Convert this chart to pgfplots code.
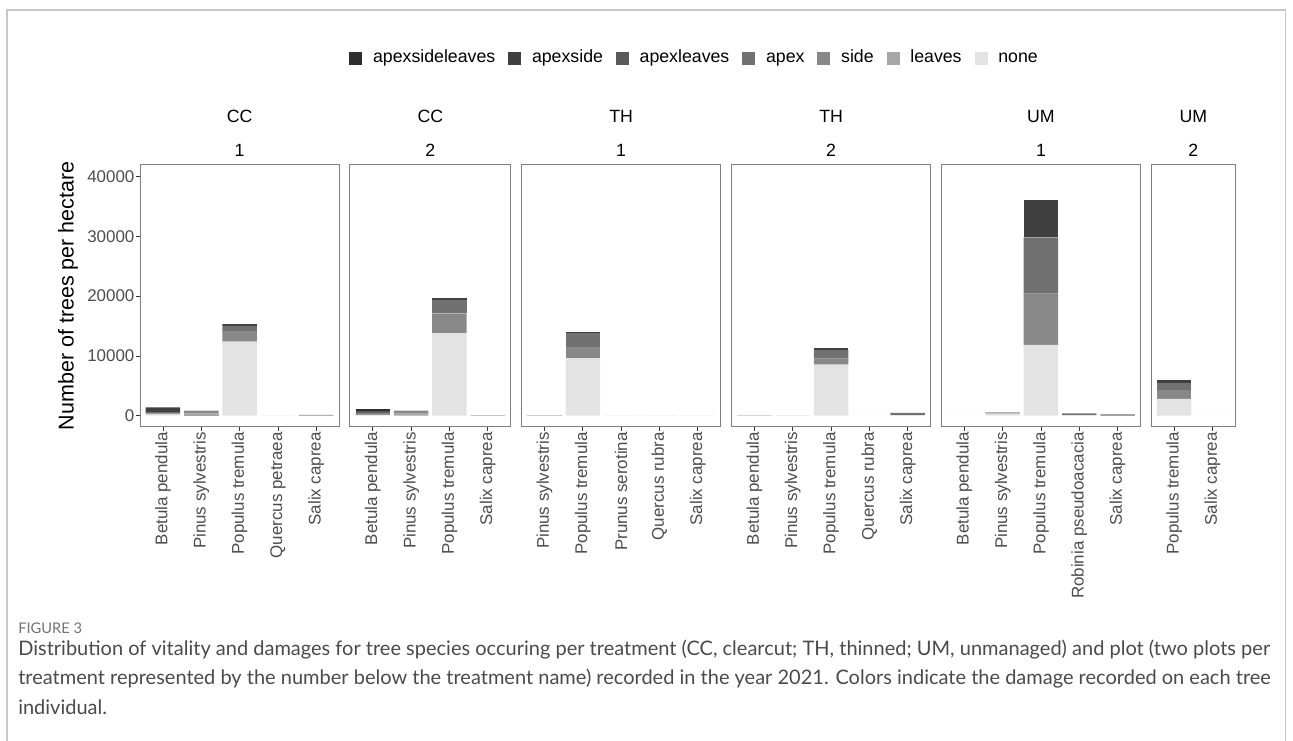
\documentclass[border=0pt]{standalone}
\usepackage{fontspec}
\setmainfont{Liberation Sans}
\newfontfamily\capfont{Lato}
\usepackage{pgfplots}
\pgfplotsset{compat=1.18}
\usepackage{pgfplotstable}

\definecolor{cASL}{HTML}{2E2E2E}
\definecolor{cAS}{HTML}{404040}
\definecolor{cAL}{HTML}{5A5A5A}
\definecolor{cA}{HTML}{717171}
\definecolor{cS}{HTML}{888888}
\definecolor{cL}{HTML}{A6A6A6}
\definecolor{cN}{HTML}{E3E3E3}
\definecolor{panelframe}{HTML}{7F7F7F}
\definecolor{ticktext}{HTML}{4D4D4D}
\definecolor{outerframe}{HTML}{C8C8C8}
\definecolor{captext}{HTML}{4A4A4A}

% columns: x none leaves side apex apexleaves apexside apexsideleaves
\pgfplotstableread{
x none leaves side apex apexleaves apexside apexsideleaves
0 200 0 150 250 0 780 0
1 0 330 500 0 0 0 0
2 12383 0 1830 830 0 280 0
3 60 0 0 0 0 0 0
4 0 0 150 0 0 0 0
}\tCCa
\pgfplotstableread{
x none leaves side apex apexleaves apexside apexsideleaves
0 150 0 300 0 250 0 350
1 0 330 500 0 0 0 0
2 13833 0 3280 2280 0 330 0
3 0 100 0 0 0 0 0
}\tCCb
\pgfplotstableread{
x none leaves side apex apexleaves apexside apexsideleaves
0 100 80 0 0 0 0 0
1 9633 0 1890 2280 0 220 0
2 40 0 0 0 0 0 0
3 40 0 0 0 0 0 0
4 40 0 0 0 0 0 0
}\tTHa
\pgfplotstableread{
x none leaves side apex apexleaves apexside apexsideleaves
0 0 0 60 0 0 0 0
1 80 0 0 0 0 0 0
2 8550 0 1000 1440 0 280 0
3 30 0 0 0 0 0 0
4 100 0 0 350 0 0 0
}\tTHb
\pgfplotstableread{
x none leaves side apex apexleaves apexside apexsideleaves
0 30 0 0 0 0 0 0
1 350 0 200 0 0 0 0
2 11833 0 8611 9389 0 6333 0
3 80 0 0 300 0 0 0
4 0 0 0 200 0 0 0
}\tUMa
\pgfplotstableread{
x none leaves side apex apexleaves apexside apexsideleaves
0 2833 0 1500 1111 0 444 0
1 30 0 0 0 0 0 0
}\tUMb

\pgfplotsset{
  sq/.style={legend image code/.code={\fill[##1] (0pt,-4.9pt) rectangle (9.75pt,4.9pt);}},
  panel/.style={
    scale only axis, height=196.3pt,
    ymin=-1840, ymax=41960,
    ybar stacked, bar width=0.9,
    axis line style={draw=panelframe, line width=0.7pt},
    tick align=outside, major tick length=3pt,
    tick style={draw=black!80, line width=0.6pt},
    xtick pos=bottom, ytick pos=left,
    xmin=-0.6,
    ticklabel style={font=\fontsize{12.7}{15}\selectfont, text=ticktext},
    xticklabel style={rotate=90, anchor=east, inner sep=1pt},
    yticklabel style={inner sep=1pt},
    title style={align=center, font=\fontsize{13.3}{25.5}\selectfont, inner sep=0pt, yshift=0pt},
    scaled y ticks=false,
    /pgf/number format/set thousands separator={},
    /pgf/number format/assume math mode=true,
  },
}

\newcommand\panelplots[1]{%
  \addplot[fill=cN, draw=none, sq] table[x=x,y=none]{#1};
  \addplot[fill=cL, draw=none, sq] table[x=x,y=leaves]{#1};
  \addplot[fill=cS, draw=none, sq] table[x=x,y=side]{#1};
  \addplot[fill=cA, draw=none, sq] table[x=x,y=apex]{#1};
  \addplot[fill=cAL, draw=none, sq] table[x=x,y=apexleaves]{#1};
  \addplot[fill=cAS, draw=none, sq] table[x=x,y=apexside]{#1};
  \addplot[fill=cASL, draw=none, sq] table[x=x,y=apexsideleaves]{#1};
}

\begin{document}
\begin{tikzpicture}
\path[use as bounding box] (0pt,0pt) rectangle (969.75pt,-555pt);
\draw[outerframe, line width=0.9pt] (5.25pt,-560pt) -- (5.25pt,-7.5pt) -- (964.1pt,-7.5pt) -- (964.1pt,-560pt);

% CC 1
\begin{axis}[panel, at={(105pt,-320pt)}, anchor=south west, width=149.4pt,
  xmax=4.6, xtick={0,1,2,3,4},
  xticklabels={Betula pendula,Pinus sylvestris,Populus tremula,Quercus petraea,Salix caprea},
  ytick={0,10000,20000,30000,40000},
  title={CC\\1},
  ylabel={Number of trees per hectare},
  ylabel style={at={(axis description cs:-0.3614,0.5)}, anchor=center, font=\fontsize{16.1}{19}\selectfont},
  legend columns=7, reverse legend,
  legend style={at={(2.779,1.408)}, anchor=center, draw=none, fill=none,
    font=\fontsize{13.3}{16}\selectfont,
    nodes={inner sep=0pt, text height=9.6pt, text depth=2.8pt},
    /tikz/every odd column/.append style={column sep=8pt},
    /tikz/every even column/.append style={column sep=9.75pt}},
]
\panelplots{\tCCa}
\legend{none,leaves,side,apex,apexleaves,apexside,apexsideleaves}
\end{axis}

% CC 2
\begin{axis}[panel, at={(262.4pt,-320pt)}, anchor=south west, width=120.7pt,
  xmax=3.6, xtick={0,1,2,3},
  xticklabels={Betula pendula,Pinus sylvestris,Populus tremula,Salix caprea},
  ytick=\empty, title={CC\\2}]
\panelplots{\tCCb}
\end{axis}

% TH 1
\begin{axis}[panel, at={(391.1pt,-320pt)}, anchor=south west, width=149.4pt,
  xmax=4.6, xtick={0,1,2,3,4},
  xticklabels={Pinus sylvestris,Populus tremula,Prunus serotina,Quercus rubra,Salix caprea},
  ytick=\empty, title={TH\\1}]
\panelplots{\tTHa}
\end{axis}

% TH 2
\begin{axis}[panel, at={(548.6pt,-320pt)}, anchor=south west, width=149.4pt,
  xmax=4.6, xtick={0,1,2,3,4},
  xticklabels={Betula pendula,Pinus sylvestris,Populus tremula,Quercus rubra,Salix caprea},
  ytick=\empty, title={TH\\2}]
\panelplots{\tTHb}
\end{axis}

% UM 1
\begin{axis}[panel, at={(706.0pt,-320pt)}, anchor=south west, width=149.4pt,
  xmax=4.6, xtick={0,1,2,3,4},
  xticklabels={Betula pendula,Pinus sylvestris,Populus tremula,Robinia pseudoacacia,Salix caprea},
  ytick=\empty, title={UM\\1}]
\panelplots{\tUMa}
\end{axis}

% UM 2
\begin{axis}[panel, at={(863.4pt,-320pt)}, anchor=south west, width=63.2pt,
  xmax=1.6, xtick={0,1},
  xticklabels={Populus tremula,Salix caprea},
  ytick=\empty, title={UM\\2}]
\panelplots{\tUMb}
\end{axis}

% caption
\node[anchor=west, inner sep=0pt, text=black!55, font=\capfont\fontsize{11}{13}\selectfont] at (13.5pt,-471pt) {FIGURE 3};
\node[anchor=west, inner sep=0pt, text=captext, font=\capfont\fontsize{15}{18}\selectfont] at (13.5pt,-487.5pt) {Distribution of vitality and damages for tree species occuring per treatment (CC, clearcut; TH, thinned; UM, unmanaged) and plot (two plots per};
\node[anchor=west, inner sep=0pt, text=captext, font=\capfont\fontsize{15}{18}\selectfont] at (13.5pt,-509.25pt) {treatment represented by the number below the treatment name) recorded in the year 2021. Colors indicate the damage recorded on each tree};
\node[anchor=west, inner sep=0pt, text=captext, font=\capfont\fontsize{15}{18}\selectfont] at (13.5pt,-530.25pt) {individual.};
\end{tikzpicture}
\end{document}
